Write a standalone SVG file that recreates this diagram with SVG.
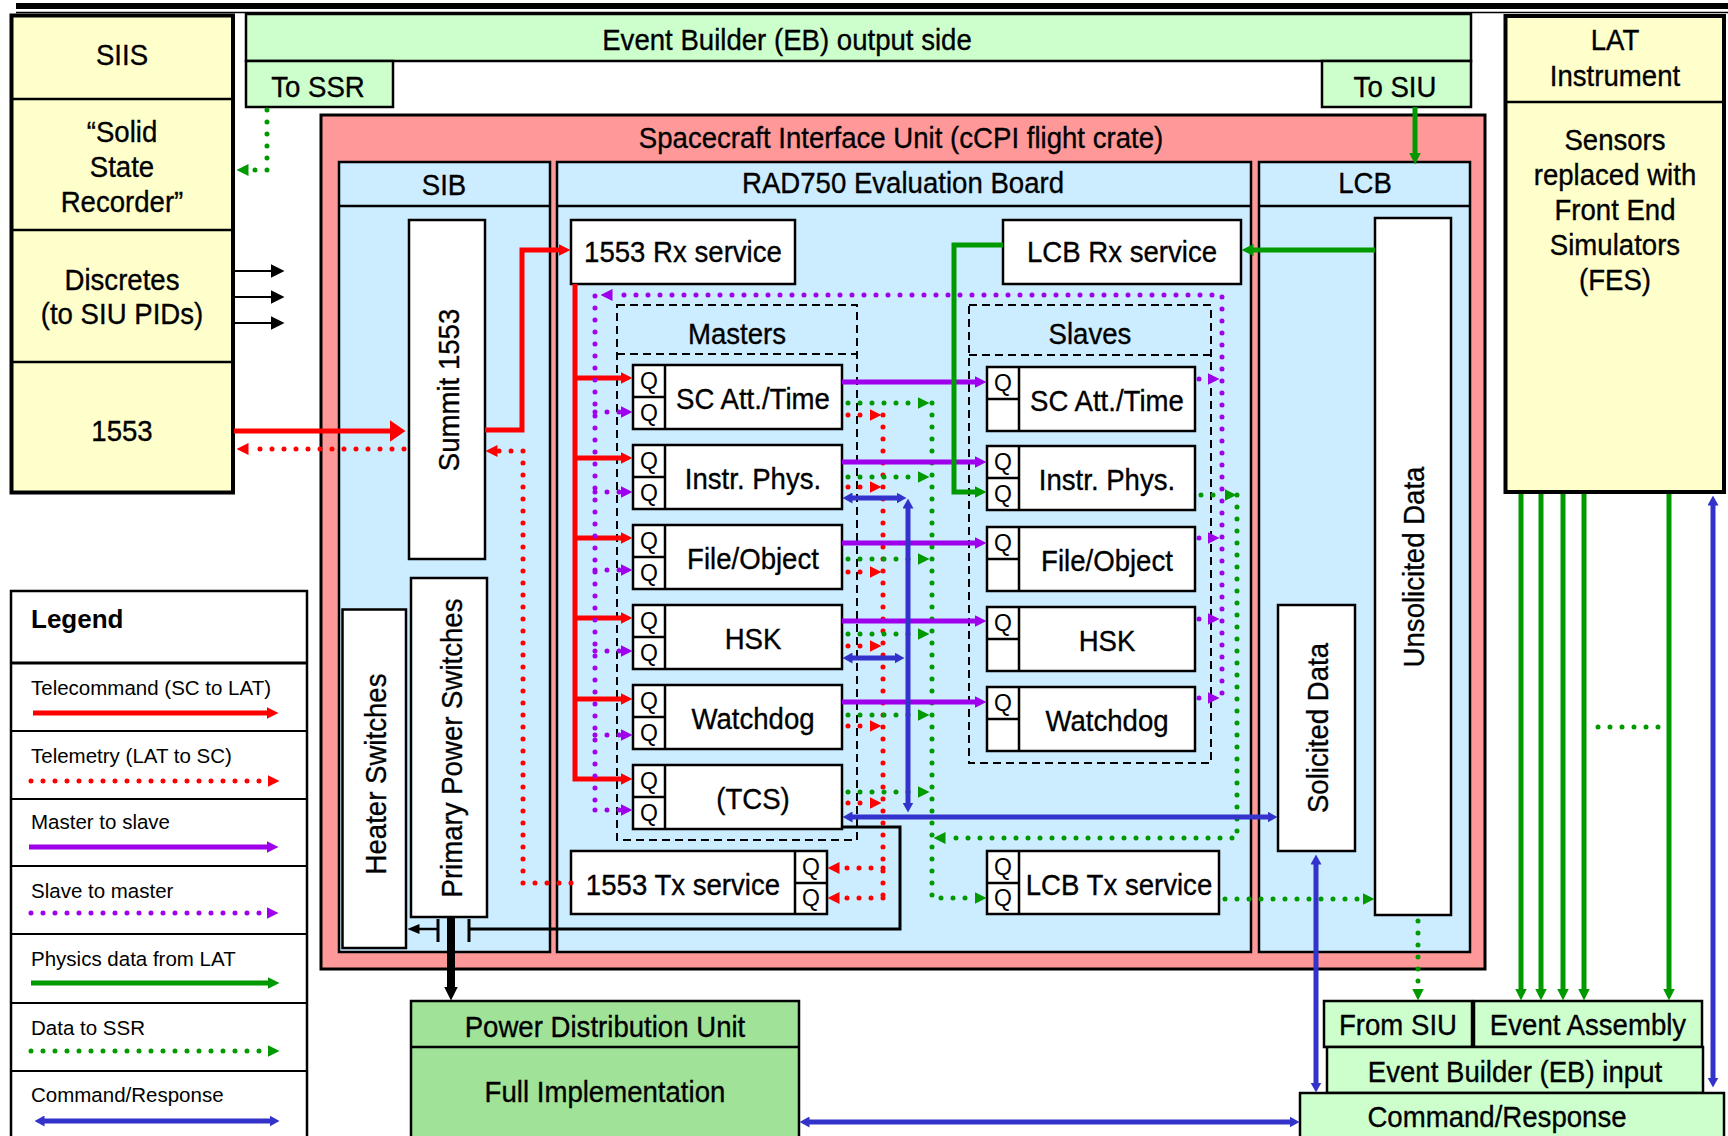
<svg xmlns="http://www.w3.org/2000/svg" width="1728" height="1136" viewBox="0 0 1728 1136">
<style>
text{font-family:"Liberation Sans",Arial,sans-serif;fill:#000}
.t{font-size:30px;text-anchor:middle;stroke:#000;stroke-width:0.35;transform-box:fill-box;transform-origin:center;transform:scaleX(0.92)}
.tr{font-size:30px;text-anchor:middle;stroke:#000;stroke-width:0.35}
.q{font-size:23px;text-anchor:middle}
.lg{font-size:20.5px}
.lgh{font-size:26px;font-weight:bold}
.wb{fill:#fff;stroke:#000;stroke-width:2.5}
.yb{fill:#FFFFCC;stroke:#000;stroke-width:4}
.gb{fill:#CCFFCC;stroke:#000;stroke-width:2.5}
.bb{fill:#CCECFF;stroke:#000;stroke-width:2.5}
.ln{stroke:#000;stroke-width:2.5;fill:none}
.dash{fill:none;stroke:#000;stroke-width:2;stroke-dasharray:8 5}
.r{stroke:#FF0000;stroke-width:5;fill:none}
.rd{stroke:#FF0000;stroke-width:5;fill:none;stroke-dasharray:0 12;stroke-linecap:round}
.p{stroke:#9E00EC;stroke-width:5;fill:none}
.pd{stroke:#9E00EC;stroke-width:5;fill:none;stroke-dasharray:0 12;stroke-linecap:round}
.g{stroke:#009900;stroke-width:5;fill:none}
.gd{stroke:#009900;stroke-width:5;fill:none;stroke-dasharray:0 12;stroke-linecap:round}
.b{stroke:#3333CC;stroke-width:5;fill:none}
.k{stroke:#000;stroke-width:3;fill:none}
</style>
<defs>
<marker id="aR" markerUnits="userSpaceOnUse" viewBox="0 0 12 12" markerWidth="12" markerHeight="12" refX="0.5" refY="6" orient="auto-start-reverse"><path d="M0,0L12,6L0,12z" fill="#FF0000"/></marker>
<marker id="aRB" markerUnits="userSpaceOnUse" viewBox="0 0 16 22" markerWidth="16" markerHeight="22" refX="0.5" refY="11" orient="auto-start-reverse"><path d="M0,0L16,11L0,22z" fill="#FF0000"/></marker>
<marker id="aP" markerUnits="userSpaceOnUse" viewBox="0 0 12 12" markerWidth="12" markerHeight="12" refX="0.5" refY="6" orient="auto-start-reverse"><path d="M0,0L12,6L0,12z" fill="#9E00EC"/></marker>
<marker id="aG" markerUnits="userSpaceOnUse" viewBox="0 0 12 12" markerWidth="12" markerHeight="12" refX="0.5" refY="6" orient="auto-start-reverse"><path d="M0,0L12,6L0,12z" fill="#009900"/></marker>
<marker id="aB" markerUnits="userSpaceOnUse" viewBox="0 0 10 11" markerWidth="10" markerHeight="11" refX="0.5" refY="5.5" orient="auto-start-reverse"><path d="M0,0L10,5.5L0,11z" fill="#3333CC"/></marker>
<marker id="aK" markerUnits="userSpaceOnUse" viewBox="0 0 14 14" markerWidth="14" markerHeight="14" refX="0.5" refY="7" orient="auto-start-reverse"><path d="M0,0L14,7L0,14z" fill="#000"/></marker>
<marker id="aKs" markerUnits="userSpaceOnUse" viewBox="0 0 12 10" markerWidth="12" markerHeight="10" refX="0.5" refY="5" orient="auto-start-reverse"><path d="M0,0L12,5L0,10z" fill="#000"/></marker>
</defs>
<rect width="1728" height="1136" fill="#fff"/>
<rect x="16" y="3" width="1712" height="6" fill="#000"/>
<line x1="16" y1="12.5" x2="1728" y2="12.5" stroke="#000" stroke-width="1.5"/>

<g id="siis">
<rect class="yb" x="11.5" y="15.5" width="221.5" height="477"/>
<line class="ln" x1="11.5" y1="99" x2="233" y2="99" stroke-width="3"/>
<line class="ln" x1="11.5" y1="230" x2="233" y2="230" stroke-width="3"/>
<line class="ln" x1="11.5" y1="362" x2="233" y2="362" stroke-width="3"/>
<text class="t" x="122" y="65">SIIS</text>
<text class="t" x="122" y="142">“Solid</text>
<text class="t" x="122" y="177">State</text>
<text class="t" x="122" y="212">Recorder”</text>
<text class="t" x="122" y="290">Discretes</text>
<text class="t" x="122" y="324">(to SIU PIDs)</text>
<text class="t" x="122" y="441">1553</text>
</g>

<g id="lat">
<rect class="yb" x="1505.5" y="16" width="218.5" height="476"/>
<line class="ln" x1="1505.5" y1="102" x2="1724" y2="102" stroke-width="3.5"/>
<text class="t" x="1615" y="50">LAT</text>
<text class="t" x="1615" y="86">Instrument</text>
<text class="t" x="1615" y="150">Sensors</text>
<text class="t" x="1615" y="185">replaced with</text>
<text class="t" x="1615" y="220">Front End</text>
<text class="t" x="1615" y="255">Simulators</text>
<text class="t" x="1615" y="290">(FES)</text>
</g>

<g id="eb-output">
<rect class="gb" x="246" y="14" width="1225" height="47"/>
<text class="t" x="787" y="50">Event Builder (EB) output side</text>
</g>
<g id="to-ssr">
<rect class="gb" x="246" y="61" width="147" height="46"/>
<text class="t" x="318" y="97">To SSR</text>
</g>
<g id="to-siu">
<rect class="gb" x="1322" y="61" width="149" height="46"/>
<text class="t" x="1395" y="97">To SIU</text>
</g>

<g id="siu">
<rect x="321" y="115" width="1164" height="854" fill="#FF9999" stroke="#000" stroke-width="3"/>
<text class="t" x="901" y="148">Spacecraft Interface Unit (cCPI flight crate)</text>
</g>
<g id="sib">
<rect class="bb" x="339" y="162" width="211" height="790"/>
<line class="ln" x1="339" y1="206" x2="550" y2="206"/>
<text class="t" x="444" y="195">SIB</text>
</g>
<g id="rad750">
<rect class="bb" x="557" y="162" width="694" height="790"/>
<line class="ln" x1="557" y1="206" x2="1251" y2="206"/>
<text class="t" x="903" y="193">RAD750 Evaluation Board</text>
</g>
<g id="lcb">
<rect class="bb" x="1259" y="162" width="211" height="790"/>
<line class="ln" x1="1259" y1="206" x2="1470" y2="206"/>
<text class="t" x="1365" y="193">LCB</text>
</g>

<g id="summit">
<rect class="wb" x="409" y="220" width="76" height="339"/>
<text class="tr" transform="translate(448,390) rotate(-90) scale(0.92,1)" x="0" y="11">Summit 1553</text>
</g>
<g id="primary-power">
<rect class="wb" x="411" y="578" width="76" height="339"/>
<text class="tr" transform="translate(451,748) rotate(-90) scale(0.92,1)" x="0" y="11">Primary Power Switches</text>
</g>
<g id="heater">
<rect class="wb" x="342.5" y="609.5" width="63.5" height="338.5"/>
<text class="tr" transform="translate(375,774) rotate(-90) scale(0.92,1)" x="0" y="11">Heater Switches</text>
</g>

<g id="rx1553">
<rect class="wb" x="571" y="220" width="224" height="64"/>
<text class="t" x="683" y="262">1553 Rx service</text>
</g>
<g id="lcbrx">
<rect class="wb" x="1003" y="220" width="238" height="64"/>
<text class="t" x="1122" y="262">LCB Rx service</text>
</g>

<g id="masters">
<rect class="dash" x="617" y="305" width="240" height="535"/>
<line class="dash" x1="617" y1="354" x2="857" y2="354"/>
<text class="t" x="737" y="344">Masters</text>
</g>
<g id="slaves">
<rect class="dash" x="969" y="305" width="242" height="458"/>
<line class="dash" x1="969" y1="355" x2="1211" y2="355"/>
<text class="t" x="1090" y="344">Slaves</text>
</g>

<g id="m-scatt"><rect class="wb" x="633" y="365" width="209" height="64"/><path class="ln" d="M665,365V429M633,397H665"/><text class="q" x="649" y="389">Q</text><text class="q" x="649" y="421">Q</text><text class="t" x="753" y="409">SC Att./Time</text></g>
<g id="m-instr"><rect class="wb" x="633" y="445" width="209" height="64"/><path class="ln" d="M665,445V509M633,477H665"/><text class="q" x="649" y="469">Q</text><text class="q" x="649" y="501">Q</text><text class="t" x="753" y="489">Instr. Phys.</text></g>
<g id="m-file"><rect class="wb" x="633" y="525" width="209" height="64"/><path class="ln" d="M665,525V589M633,557H665"/><text class="q" x="649" y="549">Q</text><text class="q" x="649" y="581">Q</text><text class="t" x="753" y="569">File/Object</text></g>
<g id="m-hsk"><rect class="wb" x="633" y="605" width="209" height="64"/><path class="ln" d="M665,605V669M633,637H665"/><text class="q" x="649" y="629">Q</text><text class="q" x="649" y="661">Q</text><text class="t" x="753" y="649">HSK</text></g>
<g id="m-wd"><rect class="wb" x="633" y="685" width="209" height="64"/><path class="ln" d="M665,685V749M633,717H665"/><text class="q" x="649" y="709">Q</text><text class="q" x="649" y="741">Q</text><text class="t" x="753" y="729">Watchdog</text></g>
<g id="m-tcs"><rect class="wb" x="633" y="765" width="209" height="64"/><path class="ln" d="M665,765V829M633,797H665"/><text class="q" x="649" y="789">Q</text><text class="q" x="649" y="821">Q</text><text class="t" x="753" y="809">(TCS)</text></g>

<g id="s-scatt"><rect class="wb" x="987" y="367" width="208" height="64"/><path class="ln" d="M1019,367V431M987,399H1019"/><text class="q" x="1003" y="391">Q</text><text class="t" x="1107" y="411">SC Att./Time</text></g>
<g id="s-instr"><rect class="wb" x="987" y="446" width="208" height="64"/><path class="ln" d="M1019,446V510M987,478H1019"/><text class="q" x="1003" y="470">Q</text><text class="q" x="1003" y="502">Q</text><text class="t" x="1107" y="490">Instr. Phys.</text></g>
<g id="s-file"><rect class="wb" x="987" y="527" width="208" height="64"/><path class="ln" d="M1019,527V591M987,559H1019"/><text class="q" x="1003" y="551">Q</text><text class="t" x="1107" y="571">File/Object</text></g>
<g id="s-hsk"><rect class="wb" x="987" y="607" width="208" height="64"/><path class="ln" d="M1019,607V671M987,639H1019"/><text class="q" x="1003" y="631">Q</text><text class="t" x="1107" y="651">HSK</text></g>
<g id="s-wd"><rect class="wb" x="987" y="687" width="208" height="64"/><path class="ln" d="M1019,687V751M987,719H1019"/><text class="q" x="1003" y="711">Q</text><text class="t" x="1107" y="731">Watchdog</text></g>

<g id="tx1553"><rect class="wb" x="571" y="851" width="256" height="63"/><path class="ln" d="M795,851V914M795,883H827"/><text class="q" x="811" y="875">Q</text><text class="q" x="811" y="906">Q</text><text class="t" x="683" y="895">1553 Tx service</text></g>
<g id="lcbtx"><rect class="wb" x="987" y="851" width="232" height="63"/><path class="ln" d="M1019,851V914M987,883H1019"/><text class="q" x="1003" y="875">Q</text><text class="q" x="1003" y="906">Q</text><text class="t" x="1119" y="895">LCB Tx service</text></g>

<g id="solicited"><rect class="wb" x="1278" y="605" width="77" height="246"/><text class="tr" transform="translate(1317,728) rotate(-90) scale(0.92,1)" x="0" y="11">Solicited Data</text></g>
<g id="unsolicited"><rect class="wb" x="1375" y="218" width="76" height="697"/><text class="tr" transform="translate(1413,567) rotate(-90) scale(0.92,1)" x="0" y="11">Unsolicited Data</text></g>

<g id="pdu">
<rect x="411" y="1001" width="388" height="150" fill="#A0E298" stroke="#000" stroke-width="2.5"/>
<line class="ln" x1="411" y1="1047" x2="799" y2="1047"/>
<text class="t" x="605" y="1037">Power Distribution Unit</text>
<text class="t" x="605" y="1102">Full Implementation</text>
</g>
<g id="from-siu"><rect class="gb" x="1324" y="1001" width="148" height="46"/><text class="t" x="1398" y="1035">From SIU</text></g>
<g id="event-assembly"><rect class="gb" x="1474" y="1001" width="228" height="46"/><text class="t" x="1588" y="1035">Event Assembly</text></g>
<g id="eb-input"><rect class="gb" x="1327" y="1047" width="376" height="46"/><text class="t" x="1515" y="1082">Event Builder (EB) input</text></g>
<g id="cmd-resp"><rect class="gb" x="1300" y="1093" width="424" height="55"/><text class="t" x="1497" y="1127">Command/Response</text></g>

<g id="legend">
<rect x="11" y="591" width="296" height="560" fill="#fff" stroke="#000" stroke-width="2.5"/>
<path d="M11,663H307" stroke="#000" stroke-width="3"/>
<path d="M11,731H307M11,799H307M11,866H307M11,934H307M11,1003H307M11,1071H307" stroke="#000" stroke-width="1.8"/>
<text class="lgh" x="31" y="628">Legend</text>
<text class="lg" x="31" y="695">Telecommand (SC to LAT)</text>
<text class="lg" x="31" y="763">Telemetry (LAT to SC)</text>
<text class="lg" x="31" y="829">Master to slave</text>
<text class="lg" x="31" y="898">Slave to master</text>
<text class="lg" x="31" y="966">Physics data from LAT</text>
<text class="lg" x="31" y="1035">Data to SSR</text>
<text class="lg" x="31" y="1102">Command/Response</text>
<path class="r" d="M33,713H267" marker-end="url(#aR)"/>
<path class="rd" d="M31,781H268" marker-end="url(#aR)"/>
<path class="p" d="M29,847H267" marker-end="url(#aP)"/>
<path class="pd" d="M31,913H267" marker-end="url(#aP)"/>
<path class="g" d="M31,983H268" marker-end="url(#aG)"/>
<path class="gd" d="M31,1051H268" marker-end="url(#aG)"/>
<path class="b" d="M44,1121H270" marker-start="url(#aB)" marker-end="url(#aB)"/>
</g>

<g id="connectors">
<path stroke="#000" stroke-width="2" d="M234,271H271" marker-end="url(#aK)"/>
<path stroke="#000" stroke-width="2" d="M234,297H271" marker-end="url(#aK)"/>
<path stroke="#000" stroke-width="2" d="M234,323H271" marker-end="url(#aK)"/>
<path class="r" stroke-width="7" d="M234,431H390" marker-end="url(#aRB)"/>
<path class="rd" d="M404,449H248" marker-end="url(#aR)"/>
<path class="r" stroke-width="6" d="M485,430H522V250H559" marker-end="url(#aR)"/>
<path class="r" d="M575,284V779H621" marker-end="url(#aR)"/>
<path class="r" d="M575,378H621" marker-end="url(#aR)"/>
<path class="r" d="M575,458H621" marker-end="url(#aR)"/>
<path class="r" d="M575,538H621" marker-end="url(#aR)"/>
<path class="r" d="M575,618H621" marker-end="url(#aR)"/>
<path class="r" d="M575,699H621" marker-end="url(#aR)"/>
<path class="rd" d="M571,883H523V451H497" marker-end="url(#aR)"/>
<path class="rd" d="M848,415H870" marker-end="url(#aR)"/>
<path class="rd" d="M848,487H870" marker-end="url(#aR)"/>
<path class="rd" d="M848,572H870" marker-end="url(#aR)"/>
<path class="rd" d="M848,646H870" marker-end="url(#aR)"/>
<path class="rd" d="M848,726H870" marker-end="url(#aR)"/>
<path class="rd" d="M848,803H870" marker-end="url(#aR)"/>
<path class="rd" d="M883,415V898"/>
<path class="rd" d="M883,868H839" marker-end="url(#aR)"/>
<path class="rd" d="M883,898H839" marker-end="url(#aR)"/>
<path class="gd" d="M848,403H918" marker-end="url(#aG)"/>
<path class="gd" d="M848,477H918" marker-end="url(#aG)"/>
<path class="gd" d="M848,559H918" marker-end="url(#aG)"/>
<path class="gd" d="M848,634H918" marker-end="url(#aG)"/>
<path class="gd" d="M848,715H918" marker-end="url(#aG)"/>
<path class="gd" d="M848,792H918" marker-end="url(#aG)"/>
<path class="gd" d="M932,403V898H975" marker-end="url(#aG)"/>
<path class="gd" d="M1201,495H1225" marker-end="url(#aG)"/>
<path class="gd" d="M1237,495V838H945" marker-end="url(#aG)"/>
<path class="gd" d="M1225,899H1363" marker-end="url(#aG)"/>
<path class="gd" d="M1418,921V989" marker-end="url(#aG)"/>
<path class="gd" d="M267,110V170H248" marker-end="url(#aG)"/>
<path class="gd" d="M1598,727H1662"/>
<path class="p" d="M842,382H975" marker-end="url(#aP)"/>
<path class="p" d="M842,462H975" marker-end="url(#aP)"/>
<path class="p" d="M842,543H975" marker-end="url(#aP)"/>
<path class="p" d="M842,621H975" marker-end="url(#aP)"/>
<path class="p" d="M842,702H975" marker-end="url(#aP)"/>
<path class="pd" d="M1199,379H1208" marker-end="url(#aP)"/>
<path class="pd" d="M1199,538H1208" marker-end="url(#aP)"/>
<path class="pd" d="M1199,619H1208" marker-end="url(#aP)"/>
<path class="pd" d="M1199,698H1208" marker-end="url(#aP)"/>
<path class="pd" d="M1222,693V295H612" marker-end="url(#aP)"/>
<path class="pd" d="M595,296V810"/>
<path class="pd" d="M595,412H621" marker-end="url(#aP)"/>
<path class="pd" d="M595,492H621" marker-end="url(#aP)"/>
<path class="pd" d="M595,570H621" marker-end="url(#aP)"/>
<path class="pd" d="M595,651H621" marker-end="url(#aP)"/>
<path class="pd" d="M595,735H621" marker-end="url(#aP)"/>
<path class="pd" d="M595,810H621" marker-end="url(#aP)"/>
<path class="g" d="M1415,107V153" marker-end="url(#aG)"/>
<path class="g" d="M1375,250H1253" marker-end="url(#aG)"/>
<path class="g" d="M1003,245H954V492H975" marker-end="url(#aG)"/>
<path class="g" d="M1521,494V989" marker-end="url(#aG)"/>
<path class="g" d="M1541,494V989" marker-end="url(#aG)"/>
<path class="g" d="M1563,494V989" marker-end="url(#aG)"/>
<path class="g" d="M1584,494V989" marker-end="url(#aG)"/>
<path class="g" d="M1669,494V989" marker-end="url(#aG)"/>
<path class="b" d="M852,498H897" marker-start="url(#aB)" marker-end="url(#aB)"/>
<path class="b" d="M852,658H895" marker-start="url(#aB)" marker-end="url(#aB)"/>
<path class="b" d="M908,508V803" marker-start="url(#aB)" marker-end="url(#aB)"/>
<path class="b" d="M852,817H1268" marker-start="url(#aB)" marker-end="url(#aB)"/>
<path class="b" d="M1316,864V1083" marker-start="url(#aB)" marker-end="url(#aB)"/>
<path class="b" d="M1713,505V1078" marker-start="url(#aB)" marker-end="url(#aB)"/>
<path class="b" d="M809,1122H1290" marker-start="url(#aB)" marker-end="url(#aB)"/>
<path stroke="#000" stroke-width="8" fill="none" d="M451,917V987" marker-end="url(#aK)"/>
<path class="k" d="M842,827H900V929H469M469,919V942"/>
<path class="k" d="M438,919V942"/>
<path stroke="#000" stroke-width="2.5" fill="none" d="M438,929H419" marker-end="url(#aKs)"/>
</g>
</svg>
